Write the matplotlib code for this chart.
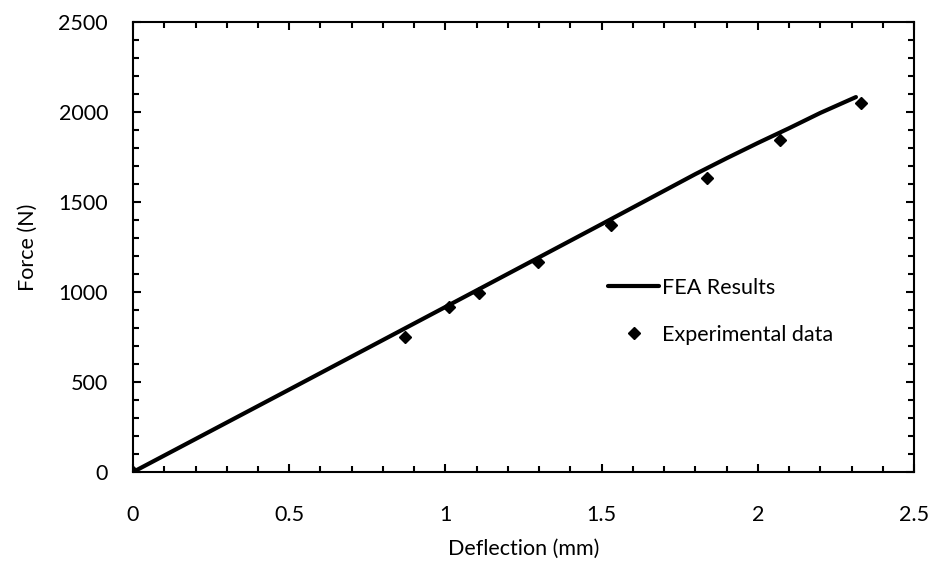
import matplotlib.pyplot as plt
from matplotlib.ticker import MultipleLocator

# Кривая МКЭ (прогиб, мм -> сила, Н)
fea_deflection = [0.0, 0.5, 1.0, 1.5, 1.8, 1.9, 2.0, 2.1, 2.2, 2.314]
fea_force = [0, 458, 917, 1377, 1655, 1743, 1828, 1910, 1995, 2083]

# Экспериментальные точки
exp_deflection = [0.0, 0.871, 1.012, 1.107, 1.296, 1.530, 1.837, 2.071, 2.330]
exp_force = [0, 750, 917, 994, 1167, 1370, 1633, 1844, 2050]

plt.rcParams['font.family'] = ['Lato', 'DejaVu Sans']
fs = 15.5

fig = plt.figure(figsize=(9.37, 5.69), dpi=100)
ax = fig.add_axes([0.142, 0.1705, 0.8335, 0.7908])

ax.plot(fea_deflection, fea_force, color='black', lw=3,
        solid_capstyle='round', solid_joinstyle='round', label='FEA Results')
ax.plot(exp_deflection, exp_force, linestyle='none', marker='D',
        markersize=6, color='black', label='Experimental data')

ax.set_xlim(0, 2.5)
ax.set_ylim(0, 2500)
ax.xaxis.set_major_locator(MultipleLocator(0.5))
ax.xaxis.set_minor_locator(MultipleLocator(0.1))
ax.yaxis.set_major_locator(MultipleLocator(500))
ax.yaxis.set_minor_locator(MultipleLocator(100))
ax.xaxis.set_major_formatter(plt.FuncFormatter(lambda v, p: f'{v:g}'))

for s in ax.spines.values():
    s.set_linewidth(1.5)

ax.tick_params(which='both', direction='in', top=True, right=True,
               width=1.5, labelsize=fs)
ax.tick_params(which='major', length=6)
ax.tick_params(which='minor', length=4.5)
ax.tick_params(axis='x', which='major', pad=24)
ax.tick_params(axis='y', which='major', pad=18)

ax.set_xlabel('Deflection (mm)', fontsize=fs, labelpad=10)
ax.set_ylabel('Force (N)', fontsize=fs, labelpad=15)

ax.legend(loc='upper left', bbox_to_anchor=(0.583, 0.475), frameon=False,
          fontsize=fs, handlelength=2.4, handletextpad=0.1,
          labelspacing=1.25)

fig.savefig('out.png', dpi=100)
